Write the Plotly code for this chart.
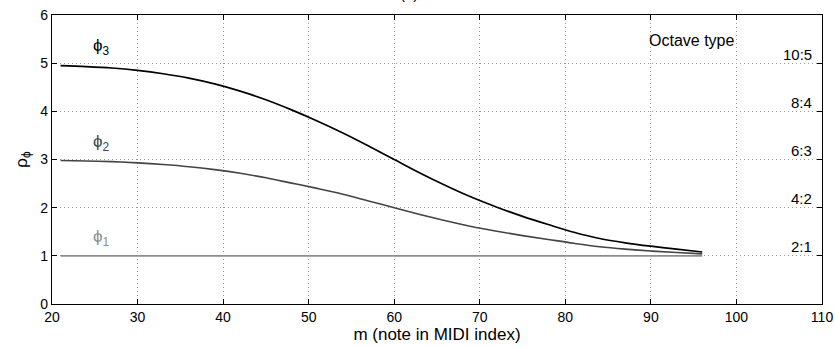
import plotly.graph_objects as go

# Data
m_vals = [21, 24, 27, 30, 33, 36, 39, 42, 45, 48, 51, 54, 57, 60, 63, 66, 69, 72, 75, 78, 81, 84, 87, 90, 93, 96]
phi3 = [4.95, 4.93, 4.90, 4.85, 4.78, 4.69, 4.57, 4.42, 4.24, 4.03, 3.80, 3.55, 3.28, 3.00, 2.72, 2.46, 2.22, 2.01, 1.82, 1.65, 1.49, 1.36, 1.27, 1.20, 1.14, 1.08]
phi2 = [2.98, 2.97, 2.955, 2.93, 2.895, 2.85, 2.79, 2.715, 2.62, 2.51, 2.40, 2.28, 2.14, 2.00, 1.86, 1.73, 1.61, 1.51, 1.42, 1.34, 1.26, 1.19, 1.14, 1.10, 1.07, 1.04]
phi1 = [1.0] * len(m_vals)

octave_levels = [5, 4, 3, 2, 1]
octave_labels = ["10:5", "8:4", "6:3", "4:2", "2:1"]

x_ticks = [20, 30, 40, 50, 60, 70, 80, 90, 100, 110]
y_ticks = [0, 1, 2, 3, 4, 5, 6]

FONT = "Liberation Sans, Arial, Helvetica, sans-serif"

fig = go.Figure()
fig.add_trace(go.Scatter(x=m_vals, y=phi1, mode="lines", line=dict(color="#8c8c8c", width=1.6), showlegend=False))
fig.add_trace(go.Scatter(x=m_vals, y=phi2, mode="lines", line=dict(color="#444444", width=1.6, shape="spline"), showlegend=False))
fig.add_trace(go.Scatter(x=m_vals, y=phi3, mode="lines", line=dict(color="#000000", width=1.7, shape="spline"), showlegend=False))

# curve labels
for txt, yv, col in [("ϕ<sub>3</sub>", 5.33, "#000000"), ("ϕ<sub>2</sub>", 3.34, "#444444"), ("ϕ<sub>1</sub>", 1.37, "#8c8c8c")]:
    fig.add_annotation(x=25.8, y=yv, text=txt, showarrow=False, font=dict(family=FONT, size=17, color=col),
                       xanchor="center", yanchor="middle")

# octave-type labels
for lv, lab in zip(octave_levels, octave_labels):
    fig.add_annotation(x=1, xref="paper", y=lv, yref="y", text=lab, showarrow=False,
                       xanchor="right", yanchor="middle", xshift=-8, yshift=9,
                       font=dict(family=FONT, size=15, color="#000000"))
fig.add_annotation(x=94.8, y=5.48, text="Octave type", showarrow=False,
                   font=dict(family=FONT, size=16, color="#000000"), xanchor="center", yanchor="middle")

# partially visible panel title
fig.add_annotation(x=61.7, y=1, yref="paper", text="(a)", showarrow=False, yanchor="bottom", yshift=11,
                   font=dict(family=FONT, size=15, color="#000000"))

fig.update_layout(
    width=835, height=347,
    margin=dict(l=52, r=13, t=15, b=43),
    paper_bgcolor="white", plot_bgcolor="white",
    font=dict(family=FONT, size=14, color="#000000"),
    xaxis=dict(range=[20, 110], tickvals=x_ticks, ticks="inside", ticklen=5, tickcolor="#000",
               showline=True, linecolor="#000", linewidth=1.3, mirror="ticks", automargin=False,
               showgrid=True, gridcolor="#9a9a9a", griddash="1px,3px", gridwidth=1,
               zeroline=False, tickfont=dict(size=14),
               title=dict(text="m (note in MIDI index)", font=dict(size=17), standoff=0)),
    yaxis=dict(range=[0, 6], tickvals=y_ticks, ticks="inside", ticklen=5, tickcolor="#000",
               showline=True, linecolor="#000", linewidth=1.3, mirror="ticks", automargin=False,
               showgrid=True, gridcolor="#9a9a9a", griddash="1px,3px", gridwidth=1,
               zeroline=False, tickfont=dict(size=14),
               title=dict(text="ρ<sub>ϕ</sub>", font=dict(size=17), standoff=8)),
)

fig.write_html("out.html", config={"displayModeBar": False},
               post_script="document.body.style.margin='0px';document.body.style.overflow='hidden';")
